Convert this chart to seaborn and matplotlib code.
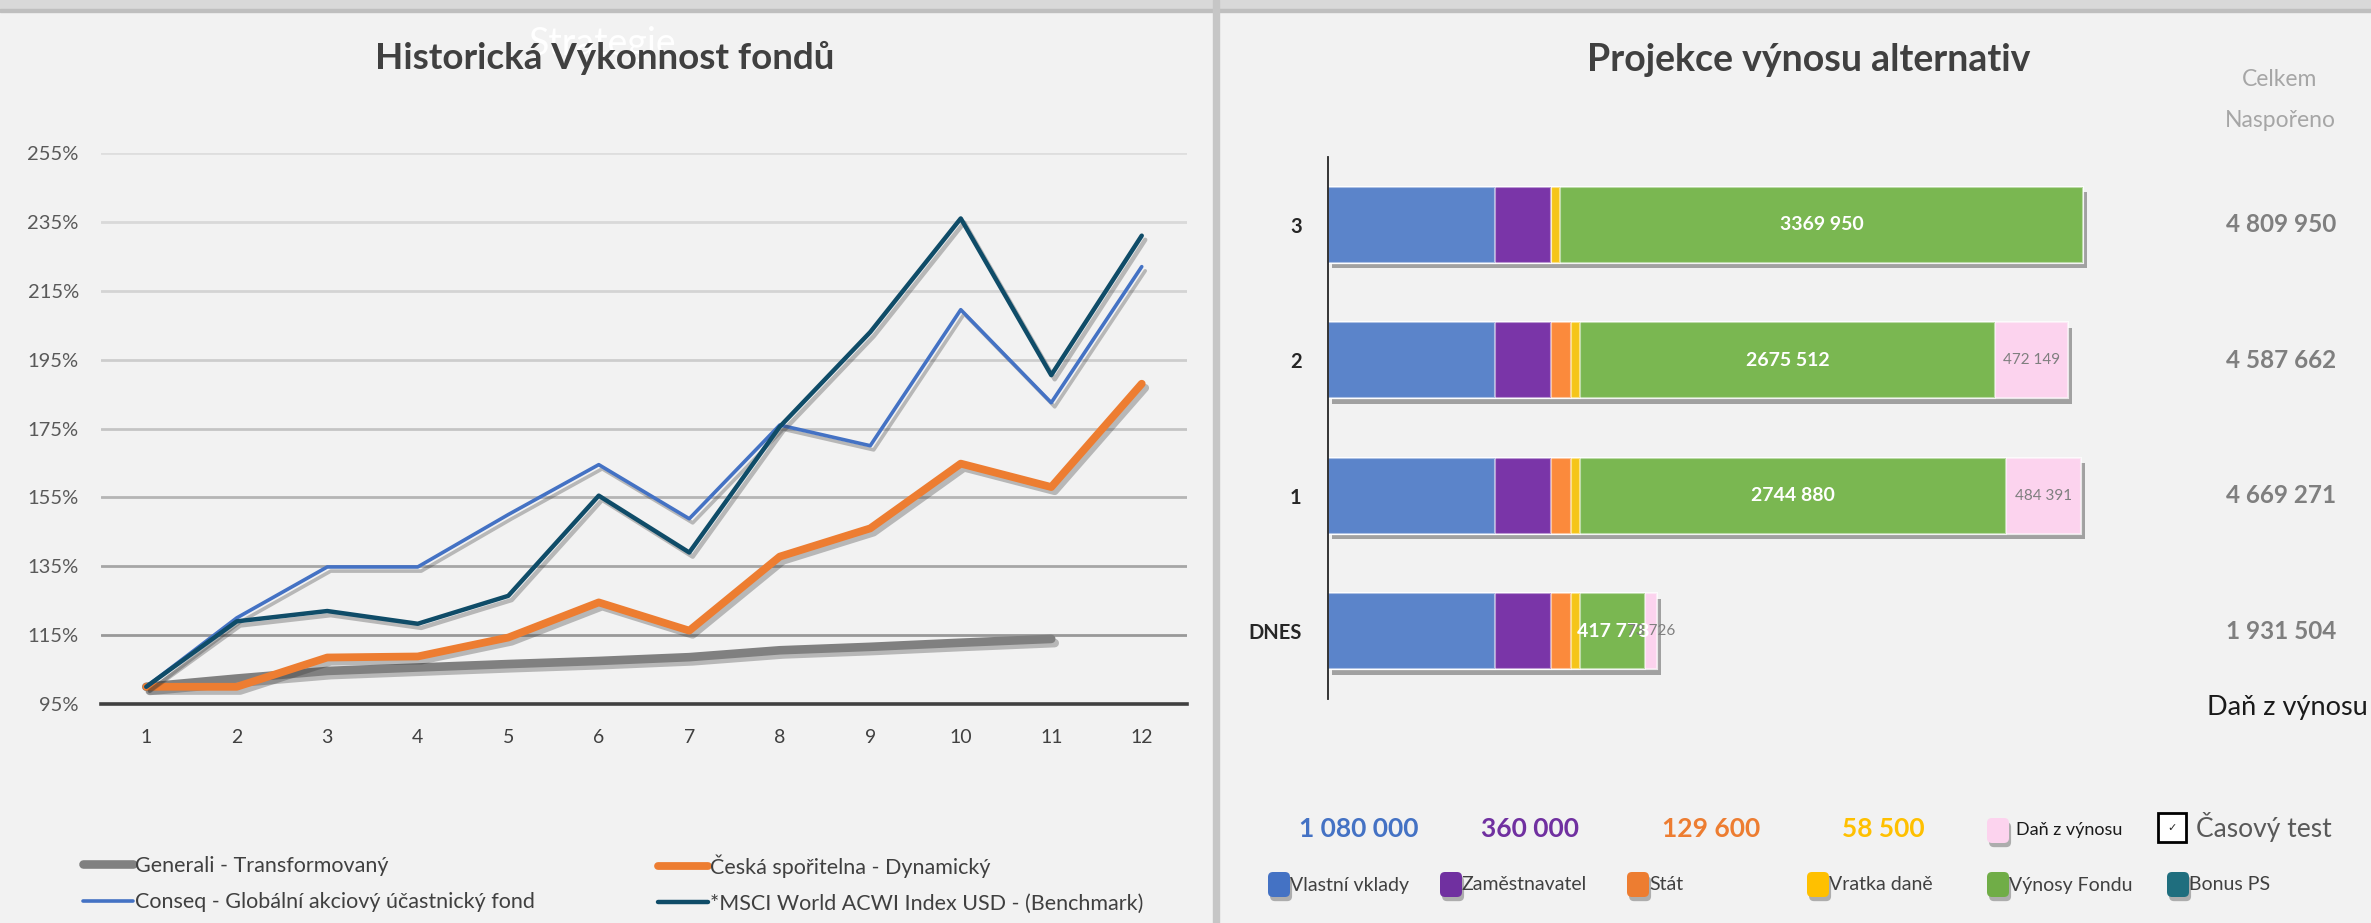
import numpy as np
import pandas as pd
import matplotlib
matplotlib.use('Agg')
import matplotlib.pyplot as plt
import matplotlib.patheffects as pe
import matplotlib.transforms as mtransforms
from matplotlib.patches import Rectangle, FancyBboxPatch
from matplotlib.lines import Line2D
import seaborn as sns

# ---------- left chart: historical fund performance (%) ----------
periods = list(range(1, 13))
generali = [100, 102.4, 104.6, 105.6, 106.6, 107.5, 108.6, 110.6, 111.6, 112.8, 113.9]
ceska = [100, 100, 108.5, 108.8, 114.3, 124.5, 116.3, 137.8, 146, 164.8, 158, 188]
conseq = [100, 120, 134.8, 134.8, 150, 164.5, 148.8, 176, 170, 209.5, 182.5, 222]
msci = [100, 119, 122, 118.3, 126.4, 155.5, 139, 175.5, 203, 236, 190.5, 231]

fund_names = ['Generali - Transformovaný', 'Česká spořitelna - Dynamický',
              'Conseq - Globální akciový účastnický fond', '*MSCI World ACWI Index USD - (Benchmark)']
fund_colors = ['#808080', '#ed7d31', '#4472c4', '#0f4c68']
fund_widths = [6.2, 5.6, 2.6, 3.2]
y_ticks = [95, 115, 135, 155, 175, 195, 215, 235, 255]
grid_colors = ['#404040', '#999999', '#a6a6a6', '#b5b5b5', '#c4c4c4', '#cdcdcd', '#d4d4d4', '#d9d9d9', '#dedede']

# ---------- right chart: projected returns ----------
scenarios = ['3', '2', '1', 'DNES']
vlastni_vklady = [1080000, 1080000, 1080000, 1080000]
zamestnavatel = [360000, 360000, 360000, 360000]
stat = [0, 129600, 129600, 129600]
vratka_dane = [58500, 58500, 58500, 58500]
vynosy_fondu = [3369950, 2675512, 2744880, 417778]
dan_z_vynosu = [0, 472149, 484391, 73726]
bonus_ps = [0, 0, 0, 0]
celkem_nasporeno = [4809950, 4587662, 4669271, 1931504]
souhrn = [1080000, 360000, 129600, 58500]

components = ['Vlastní vklady', 'Zaměstnavatel', 'Stát', 'Vratka daně', 'Výnosy Fondu', 'Daň z výnosu', 'Bonus PS']
bar_colors = ['#5b84ca', '#7a35a8', '#fb8a3c', '#f5c518', '#7ab751', '#fcd3ee', '#1f6e7e']
legend_colors = ['#4472c4', '#7030a0', '#ed7d31', '#ffc000', '#70ad47', '#fcd3ee', '#1f6e7e']
souhrn_colors = ['#4472c4', '#7030a0', '#ed7d31', '#ffc000']

W, H = 2371, 923
sns.set_theme(style='white')
plt.rcParams['font.family'] = ['Lato', 'DejaVu Sans']
fig = plt.figure(figsize=(W / 100, H / 100), dpi=100, facecolor='#f2f2f2')
IN = fig.dpi_scale_trans


def at(xp, yp):
    return xp / 100, (H - yp) / 100


def fmt_space(v):
    return f'{v:,}'.replace(',', ' ')


def fmt_excel(v):
    return f'{v // 1000} {v % 1000:03d}'


# panel chrome
fig.add_artist(Rectangle(at(0, 11), W / 100, 0.11, transform=IN, color='#d9d9d9', zorder=0))
fig.add_artist(Rectangle(at(0, 12), W / 100, 0.03, transform=IN, color='#bfbfbf', zorder=0))
fig.add_artist(Rectangle(at(1213, H), 0.06, H / 100, transform=IN, color='#c6c6c6', zorder=0))

# ---------------- left: lines ----------------
axl = fig.add_axes([101 / W, 1 - 704 / H, 1086 / W, 551 / H])
axl.set_facecolor('none')
series = [generali, ceska, conseq, msci]
for name, vals, col, lw in zip(fund_names, series, fund_colors, fund_widths):
    d = pd.DataFrame({'obdobi': periods[:len(vals)], 'vykon': vals})
    sns.lineplot(data=d, x='obdobi', y='vykon', color=col, linewidth=lw, ax=axl,
                 path_effects=[pe.SimpleLineShadow(offset=(2.5, -3), shadow_color='#303030', alpha=0.3),
                               pe.Normal()], zorder=3)

axl.set_xlim(0.5, 12.5)
axl.set_ylim(95, 255)
axl.set_yticks(y_ticks)
axl.set_yticklabels([f'{v}%' for v in y_ticks])
axl.set_xticks(periods)
axl.set_xticks(np.arange(0.5, 13, 1), minor=True)
axl.tick_params(axis='x', which='major', length=0, pad=18, labelsize=14, labelcolor='#404040')
axl.tick_params(axis='x', which='minor', length=4, width=2, color='#404040', direction='out')
axl.tick_params(axis='y', length=0, pad=16, labelsize=14.5, labelcolor='#595959')
axl.set_xlabel('')
axl.set_ylabel('')
for s in ['top', 'right', 'left']:
    axl.spines[s].set_visible(False)
axl.spines['bottom'].set_color('#404040')
axl.spines['bottom'].set_linewidth(2.6)
axl.spines['bottom'].set_zorder(4)
for v, c in zip(y_ticks[1:], grid_colors[1:]):
    axl.axhline(v, color=c, linewidth=2, zorder=1)

handles = [Line2D([], [], color=c, linewidth=lw) for c, lw in zip(fund_colors, fund_widths)]
leg_kw = dict(frameon=False, fontsize=15.5, handlelength=2.3, handletextpad=0.12, labelspacing=0.75,
              borderpad=0, borderaxespad=0, loc='center left', bbox_transform=fig.transFigure,
              labelcolor='#404040')
leg1 = axl.legend([handles[0], handles[2]], [fund_names[0], fund_names[2]],
                  bbox_to_anchor=(83 / W, 1 - 884 / H), **leg_kw)
axl.add_artist(leg1)
axl.legend([handles[1], handles[3]], [fund_names[1], fund_names[3]],
           bbox_to_anchor=(658 / W, 1 - 884 / H), **leg_kw)

fig.text(*at(603, 44), 'Strategie', transform=IN, ha='center', va='center', fontsize=27, color='white', zorder=1)
fig.text(*at(605, 58), 'Historická Výkonnost fondů', transform=IN, ha='center', va='center',
         fontsize=26.5, weight='bold', color='#404040', zorder=2)

# ---------------- right: stacked bars ----------------
axr = fig.add_axes([1328 / W, 1 - 699 / H, 852.5 / W, 542 / H])
axr.set_facecolor('none')
bars = pd.DataFrame({'scenar': scenarios, 'Vlastní vklady': vlastni_vklady, 'Zaměstnavatel': zamestnavatel,
                     'Stát': stat, 'Vratka daně': vratka_dane, 'Výnosy Fondu': vynosy_fondu,
                     'Daň z výnosu': dan_z_vynosu, 'Bonus PS': bonus_ps})
cum = bars[components].cumsum(axis=1)
for i in range(len(components) - 1, -1, -1):
    sns.barplot(x=cum[components[i]], y=bars['scenar'], order=scenarios, orient='h',
                color=bar_colors[i], saturation=1, width=0.56, ax=axr,
                edgecolor=(1, 1, 1, 0.5), linewidth=1.5)
for p in axr.containers[0]:
    p.set_path_effects([pe.SimplePatchShadow(offset=(3, -4), shadow_rgbFace='#7f7f7f', alpha=0.7), pe.Normal()])

axr.set_xlim(0, 5.5e6)
axr.set_ylim(3.5, -0.5)
axr.set_xlabel('')
axr.set_ylabel('')
axr.set_xticks([])
axr.tick_params(axis='y', length=0, pad=19, labelsize=14.5, labelcolor='#262626')
for lab in axr.get_yticklabels():
    lab.set_fontweight('bold')
for s in ['top', 'right', 'bottom']:
    axr.spines[s].set_visible(False)
axr.spines['left'].set_color('#262626')
axr.spines['left'].set_linewidth(1.3)

g0 = cum['Vratka daně']
g1 = cum['Výnosy Fondu']
p1 = cum['Daň z výnosu']
for k in range(len(scenarios)):
    axr.text((g0[k] + g1[k]) / 2, k, fmt_excel(vynosy_fondu[k]), ha='center', va='center',
             fontsize=14, weight='bold', color='white', zorder=5)
    if dan_z_vynosu[k] > 0:
        axr.text((g1[k] + p1[k]) / 2, k, fmt_space(dan_z_vynosu[k]), ha='center', va='center',
                 fontsize=11, color='#7f7f7f', zorder=6)

tr = mtransforms.blended_transform_factory(fig.transFigure, axr.transData)
for k, v in enumerate(celkem_nasporeno):
    fig.text(2281 / W, k, fmt_space(v), transform=tr, ha='center', va='center',
             fontsize=17.5, weight='bold', color='#7f7f7f')

fig.text(*at(1809, 60), 'Projekce výnosu alternativ', transform=IN, ha='center', va='center',
         fontsize=27, weight='bold', color='#404040')
fig.text(*at(2280, 80), 'Celkem', transform=IN, ha='center', va='center', fontsize=16.5, color='#a6a6a6')
fig.text(*at(2280, 120), 'Naspořeno', transform=IN, ha='center', va='center', fontsize=16.5, color='#a6a6a6')
fig.text(*at(2287, 708), 'Daň z výnosu', transform=IN, ha='center', va='center', fontsize=19.5, color='#1a1a1a')

# bottom legend of the right chart
souhrn_x = [1359, 1530, 1711, 1883]
for x, v, c in zip(souhrn_x, souhrn, souhrn_colors):
    fig.text(*at(x, 829), fmt_space(v), transform=IN, ha='center', va='center',
             fontsize=19, weight='bold', color=c)

shadow = [pe.SimplePatchShadow(offset=(1.5, -3), shadow_rgbFace='#7f7f7f', alpha=0.6), pe.Normal()]


def swatch(x, y, color):
    box = FancyBboxPatch(at(x, y + 25), 0.22, 0.25, boxstyle='round,pad=0,rounding_size=0.05',
                         transform=IN, facecolor=color, edgecolor='none')
    box.set_path_effects(shadow)
    fig.add_artist(box)


legend_x = [1268, 1440, 1627, 1807, 1987, 2167]
row2 = [0, 1, 2, 3, 4, 6]
for x, idx in zip(legend_x, row2):
    swatch(x, 872, legend_colors[idx])
    fig.text(*at(x + 22, 885), components[idx], transform=IN, ha='left', va='center',
             fontsize=14, color='#404040')

swatch(1987, 818, legend_colors[5])
fig.text(*at(2016, 830), 'Daň z výnosu', transform=IN, ha='left', va='center', fontsize=13, color='#1a1a1a')
fig.add_artist(Rectangle(at(2158, 842), 0.28, 0.29, transform=IN, facecolor='white',
                         edgecolor='black', linewidth=2))
fig.text(*at(2172, 828), '✓', transform=IN, ha='center', va='center', fontsize=8,
         color='#262626', family='DejaVu Sans')
fig.text(*at(2196, 827), 'Časový test', transform=IN, ha='left', va='center', fontsize=19, color='#595959')

fig.savefig('out.png', dpi=100, facecolor=fig.get_facecolor())
